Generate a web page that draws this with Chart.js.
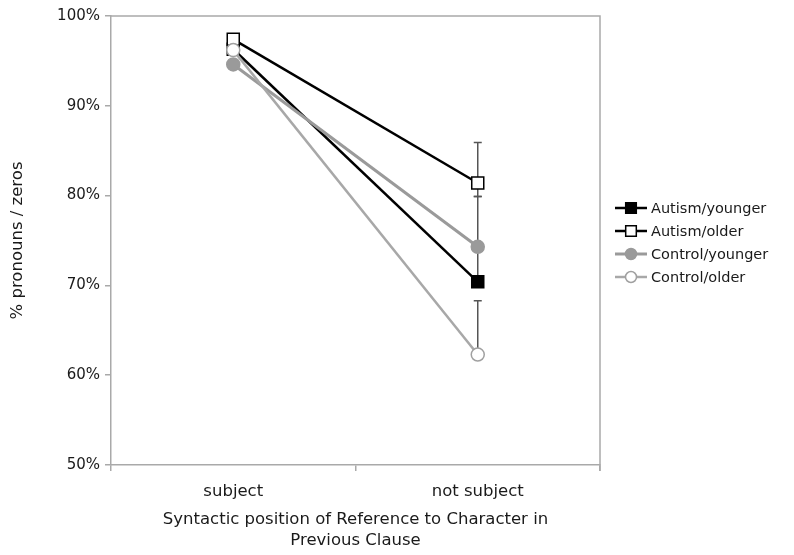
<!DOCTYPE html>
<html lang="en">
<head>
    <meta charset="UTF-8">
    <title>Pronouns / zeros by syntactic position</title>
    <style>
        body {
            margin: 0;
            background: #fff;
        }
        #wrap {
            width: 794px;
            height: 555px;
        }
    </style>
</head>
<body>
    <div id="wrap">
        <canvas id="chart" width="794" height="555"></canvas>
    </div>

    <script src="https://cdn.jsdelivr.net/npm/chart.js"></script>
    <script>
        // categories and series (% values)
        const categories = ['subject', 'not subject'];
        const seriesNames = ['Autism/younger', 'Autism/older', 'Control/younger', 'Control/older'];
        const autismYounger = [96.3, 70.4];
        const autismOlder = [97.4, 81.4];
        const controlYounger = [94.6, 74.3];
        const controlOlder = [96.2, 62.3];

        // error bars: [low, high] per category, null = none drawn
        const autismYoungerErr = [null, [70.4, 79.9]];
        const autismOlderErr = [null, [79.9, 85.9]];
        const controlYoungerErr = [null, null];
        const controlOlderErr = [null, [62.3, 68.3]];

        const yTicks = [50, 60, 70, 80, 90, 100];

        const FONT = 'DejaVu Sans, Verdana, sans-serif';
        const AXIS_GRAY = '#a9a9a9';
        const TEXT = '#1a1a1a';

        const errorSets = [autismYoungerErr, autismOlderErr, controlYoungerErr, controlOlderErr];

        // draws the error bars behind the lines and markers
        const errorBars = {
            id: 'errorBars',
            beforeDatasetsDraw(chart) {
                const ctx = chart.ctx;
                const x = chart.scales.x, y = chart.scales.y;
                ctx.save();
                ctx.strokeStyle = '#555';
                ctx.lineWidth = 1.5;
                errorSets.forEach(set => {
                    set.forEach((range, i) => {
                        if (!range) return;
                        const px = x.getPixelForValue(i);
                        const y0 = y.getPixelForValue(range[0]);
                        const y1 = y.getPixelForValue(range[1]);
                        ctx.beginPath();
                        ctx.moveTo(px, y0);
                        ctx.lineTo(px, y1);
                        ctx.moveTo(px - 4, y0);
                        ctx.lineTo(px + 4, y0);
                        ctx.moveTo(px - 4, y1);
                        ctx.lineTo(px + 4, y1);
                        ctx.stroke();
                    });
                });
                ctx.restore();
            }
        };

        // top and right edge of the plot frame
        const frame = {
            id: 'frame',
            beforeDatasetsDraw(chart) {
                const {ctx, chartArea: a} = chart;
                ctx.save();
                ctx.strokeStyle = AXIS_GRAY;
                ctx.lineWidth = 1.5;
                ctx.beginPath();
                ctx.moveTo(a.left, a.top);
                ctx.lineTo(a.right, a.top);
                ctx.lineTo(a.right, a.bottom + 6);
                ctx.stroke();
                ctx.restore();
            }
        };

        // legend with a line through each marker, like the spreadsheet one
        const lineLegend = {
            id: 'lineLegend',
            afterDraw(chart) {
                const ctx = chart.ctx;
                const x0 = 615, x1 = 647, top = 208, step = 23;
                ctx.save();
                chart.data.datasets.forEach((ds, i) => {
                    const cy = top + i * step;
                    ctx.strokeStyle = ds.borderColor;
                    ctx.lineWidth = ds.borderWidth;
                    ctx.beginPath();
                    ctx.moveTo(x0, cy);
                    ctx.lineTo(x1, cy);
                    ctx.stroke();
                    ctx.fillStyle = ds.pointBackgroundColor;
                    ctx.strokeStyle = ds.pointBorderColor;
                    ctx.lineWidth = ds.pointBorderWidth;
                    Chart.helpers.drawPoint(ctx, {
                        pointStyle: ds.pointStyle,
                        radius: ds.pointRadius - 1,
                        rotation: 0,
                        borderWidth: ds.pointBorderWidth
                    }, (x0 + x1) / 2, cy);
                    ctx.fillStyle = TEXT;
                    ctx.font = '14.5px ' + FONT;
                    ctx.textBaseline = 'middle';
                    ctx.textAlign = 'left';
                    ctx.fillText(ds.label, x1 + 4, cy + 1);
                });
                ctx.restore();
            }
        };

        const ctx = document.getElementById('chart').getContext('2d');

        new Chart(ctx, {
            type: 'line',
            data: {
                labels: categories,
                datasets: [
                    {
                        label: seriesNames[0],
                        data: autismYounger,
                        borderColor: '#000',
                        borderWidth: 2.5,
                        pointStyle: 'rect',
                        pointRadius: 8.5,
                        pointBackgroundColor: '#000',
                        pointBorderColor: '#000',
                        pointBorderWidth: 1.5,
                        order: 4
                    },
                    {
                        label: seriesNames[1],
                        data: autismOlder,
                        borderColor: '#000',
                        borderWidth: 2.5,
                        pointStyle: 'rect',
                        pointRadius: 8.5,
                        pointBackgroundColor: '#fff',
                        pointBorderColor: '#000',
                        pointBorderWidth: 1.5,
                        order: 3
                    },
                    {
                        label: seriesNames[2],
                        data: controlYounger,
                        borderColor: '#9a9a9a',
                        borderWidth: 3,
                        pointStyle: 'circle',
                        pointRadius: 6.5,
                        pointBackgroundColor: '#9a9a9a',
                        pointBorderColor: '#9a9a9a',
                        pointBorderWidth: 1.5,
                        order: 2
                    },
                    {
                        label: seriesNames[3],
                        data: controlOlder,
                        borderColor: '#a8a8a8',
                        borderWidth: 2.5,
                        pointStyle: 'circle',
                        pointRadius: 6.5,
                        pointBackgroundColor: '#fff',
                        pointBorderColor: '#a0a0a0',
                        pointBorderWidth: 1.5,
                        order: 1
                    }
                ]
            },
            options: {
                responsive: false,
                animation: false,
                layout: {
                    padding: { top: 16, right: 194, left: 0, bottom: 0 }
                },
                scales: {
                    x: {
                        offset: true,
                        afterFit: s => { s.height = 90; },
                        grid: {
                            offset: true,
                            drawOnChartArea: false,
                            tickLength: 6,
                            color: AXIS_GRAY,
                            lineWidth: 1.5
                        },
                        border: { color: AXIS_GRAY, width: 1.5 },
                        ticks: {
                            padding: 11,
                            color: TEXT,
                            font: { family: FONT, size: 16.5 }
                        },
                        title: {
                            display: true,
                            text: ['Syntactic position of Reference to Character in', 'Previous Clause'],
                            color: TEXT,
                            font: { family: FONT, size: 16.5, lineHeight: 1.27 },
                            padding: { top: 0, bottom: 4 }
                        }
                    },
                    y: {
                        min: 50,
                        max: 100,
                        afterFit: s => { s.width = 111; },
                        afterBuildTicks: s => { s.ticks = yTicks.map(v => ({ value: v })); },
                        grid: {
                            drawOnChartArea: false,
                            tickLength: 6,
                            color: AXIS_GRAY,
                            lineWidth: 1.5
                        },
                        border: { color: AXIS_GRAY, width: 1.5 },
                        ticks: {
                            padding: 5,
                            color: TEXT,
                            font: { family: FONT, size: 15 },
                            callback: v => v + '%'
                        },
                        title: {
                            display: true,
                            text: '% pronouns / zeros',
                            color: TEXT,
                            font: { family: FONT, size: 16.5 },
                            padding: { top: 8, bottom: 0 }
                        }
                    }
                },
                plugins: {
                    legend: { display: false },
                    tooltip: { enabled: false }
                }
            },
            plugins: [errorBars, frame, lineLegend]
        });
    </script>
</body>
</html>
